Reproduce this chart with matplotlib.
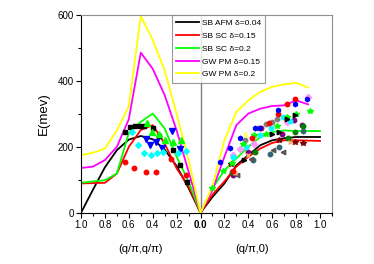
import numpy as np
import matplotlib
matplotlib.use('Agg')
import matplotlib.pyplot as plt
from matplotlib.ticker import MultipleLocator, FuncFormatter

plt.rcParams['font.family'] = ['Liberation Sans', 'DejaVu Sans']

# ── Lines: left branch (q/pi, q/pi), right branch (q/pi, 0) ────────────────
q_left = [1.0, 0.9, 0.8, 0.7, 0.6, 0.5, 0.4, 0.3, 0.2, 0.1, 0.0]
afm_left = [0, 70, 138, 190, 222, 233, 223, 192, 142, 75, 0]
sc15_left = [89, 90, 91, 119, 200, 251, 266, 210, 135, 80, 0]
sc20_left = [91, 95, 99, 119, 242, 276, 301, 256, 170, 95, 0]
pm15_left = [136, 140, 160, 200, 284, 486, 437, 357, 250, 125, 0]
pm20_left = [175, 182, 195, 250, 323, 597, 525, 432, 300, 160, 0]

q_right = [0.0, 0.1, 0.2, 0.3, 0.4, 0.5, 0.6, 0.7, 0.8, 0.9, 1.0]
afm_right = [0, 48, 89, 144, 175, 205, 220, 226, 230, 230, 230]
sc15_right = [0, 55, 95, 140, 170, 195, 212, 220, 220, 219, 218]
sc20_right = [0, 74, 129, 165, 200, 230, 245, 250, 248, 248, 248]
pm15_right = [0, 69, 170, 266, 301, 316, 324, 326, 341, 329]
pm20_right = [0, 79, 220, 306, 341, 367, 382, 390, 394, 380]

# ── Experimental points, left branch ───────────────────────────────────────
sq_q = [0.63, 0.59, 0.55, 0.51, 0.47, 0.40, 0.35, 0.23, 0.175, 0.11]
sq_E = [244, 259, 263, 263, 263, 256, 234, 190, 145, 94]
rc_q = [0.63, 0.556, 0.46, 0.37, 0.25, 0.12]
rc_E = [155, 137, 123, 123, 164, 114]
gt_q = [0.45, 0.405, 0.35, 0.295, 0.23, 0.167]
gt_E = [273, 244, 238, 220, 216, 222]
bt_q = [0.46, 0.42, 0.37, 0.32, 0.24, 0.175]
bt_E = [224, 207, 214, 196, 247, 195]
cd_q = [0.57, 0.52, 0.47, 0.415, 0.36, 0.31, 0.19, 0.125]
cd_E = [244, 205, 180, 174, 180, 185, 180, 188]

# ── Experimental points, right branch ──────────────────────────────────────
blue_q = [0.16, 0.25, 0.333, 0.454, 0.50, 0.65, 0.79, 0.89]
blue_E = [153, 198, 228, 256, 258, 311, 331, 345]
red_q = [0.27, 0.43, 0.51, 0.575, 0.65, 0.72, 0.79]
red_E = [127, 227, 257, 271, 301, 331, 345]
star_q = [0.10, 0.19, 0.26, 0.355, 0.45, 0.55, 0.64, 0.72, 0.80, 0.92]
star_E = [76, 127, 150, 210, 235, 240, 262, 291, 301, 308]
gray_q = [0.37, 0.48, 0.546, 0.60, 0.636]
gray_E = [220, 256, 269, 275, 286]
cyan_q = [0.27, 0.38, 0.496, 0.594, 0.69, 0.75]
cyan_E = [170, 200, 235, 256, 291, 280]
purple_q = [0.27, 0.40, 0.68, 0.78, 0.85]
purple_E = [114, 185, 240, 281, 266]
dgreen_q = [0.26, 0.46, 0.735, 0.79, 0.855]
dgreen_E = [123, 185, 228, 245, 263]
rtri_q = [0.36, 0.60, 0.66, 0.72, 0.79]
rtri_E = [160, 238, 245, 286, 296]
rstar_q = [0.258, 0.66, 0.79, 0.86]
rstar_E = [147, 222, 215, 212]
ltri_q = [0.305, 0.426, 0.61, 0.69]
ltri_E = [114, 162, 190, 185]
orange_q = [0.286, 0.40, 0.75]
orange_E = [121, 175, 215]
teal_q = [0.44, 0.58, 0.66, 0.86]
teal_E = [160, 178, 200, 248]
pink_q = [0.27, 0.33, 0.45, 0.72, 0.90]
pink_E = [175, 195, 210, 276, 351]
ytri_q = [0.37]
ytri_E = [240]

legend_labels = ['SB AFM δ=0.04', 'SB SC δ=0.15', 'SB SC δ=0.2',
                 'GW PM δ=0.15', 'GW PM δ=0.2']
line_colors = ['black', '#ff0000', '#00ff00', '#ff00ff', '#ffff00']

fig = plt.figure(figsize=(3.74, 2.64), dpi=100)
ax = fig.add_axes([0.2166, 0.194, 0.671, 0.749])

neg = lambda q: [-v for v in q]

lefts = [afm_left, sc15_left, sc20_left, pm15_left, pm20_left]
rights = [afm_right, sc15_right, sc20_right, pm15_right, pm20_right]
for i, (yl, yr) in enumerate(zip(lefts, rights)):
    ax.plot(neg(q_left), yl, color=line_colors[i], lw=1.3, label=legend_labels[i], zorder=2)
    ax.plot(q_right[:len(yr)], yr, color=line_colors[i], lw=1.3, zorder=2)

ms = 3.2
ax.plot(neg(sq_q), sq_E, 's', color='black', ms=ms, ls='none', zorder=3)
ax.plot(neg(rc_q), rc_E, 'o', color='#ff0000', ms=ms, ls='none', zorder=3)
ax.plot(neg(gt_q), gt_E, '^', color='#00ff00', ms=ms + 0.5, ls='none', zorder=3)
ax.plot(neg(bt_q), bt_E, 'v', color='#0000ff', ms=ms + 0.5, ls='none', zorder=3)
ax.plot(neg(cd_q), cd_E, 'D', color='#00ffff', ms=ms - 0.3, ls='none', zorder=3)

right_sets = [
    (gray_q, gray_E, 'o', '#808080'),
    (teal_q, teal_E, 'o', '#336677'),
    (purple_q, purple_E, 'o', '#800080'),
    (dgreen_q, dgreen_E, 'o', '#008000'),
    (ltri_q, ltri_E, '<', '#555555'),
    (rstar_q, rstar_E, '*', '#800000'),
    (orange_q, orange_E, 'x', '#ffaa66'),
    (pink_q, pink_E, 'D', '#ff99ff'),
    (cyan_q, cyan_E, 'o', '#00ffff'),
    (star_q, star_E, '*', '#00ff00'),
    (rtri_q, rtri_E, '>', 'black'),
    (ytri_q, ytri_E, '^', '#ffff66'),
    (red_q, red_E, 'o', '#ff0000'),
    (blue_q, blue_E, 'h', '#0000ff'),
]
for qq, ee, mk, col in right_sets:
    ax.plot(qq, ee, mk, color=col, ms=ms + (0.8 if mk == '*' else 0), ls='none', zorder=3)

ax.axvline(0, color='#808080', lw=1.0, zorder=1)

ax.set_xlim(-1.0, 1.1)
ax.set_ylim(0, 600)
ax.xaxis.set_major_locator(MultipleLocator(0.2))
ax.xaxis.set_minor_locator(MultipleLocator(0.1))
ax.xaxis.set_major_formatter(FuncFormatter(lambda v, p: f'{abs(v):.1f}'))
ax.yaxis.set_major_locator(MultipleLocator(200))
ax.yaxis.set_minor_locator(MultipleLocator(100))
ax.tick_params(axis='both', which='major', labelsize=7, length=3.5, width=0.8, pad=1.5)
ax.tick_params(axis='both', which='minor', length=2, width=0.8)
for lbl in ax.get_xticklabels():
    if lbl.get_text() == '0.0':
        lbl.set_fontweight('bold')

for s in ['top', 'right']:
    ax.spines[s].set_color('#909090')
ax.spines['left'].set_linewidth(0.8)
ax.spines['bottom'].set_linewidth(0.8)

ax.set_ylabel('E(mev)', fontsize=9.5, labelpad=6)
ax.text(-0.5, -0.16, '(q/π,q/π)', transform=ax.get_xaxis_transform(),
        ha='center', va='top', fontsize=8)
ax.text(0.43, -0.16, '(q/π,0)', transform=ax.get_xaxis_transform(),
        ha='center', va='top', fontsize=8)

leg = ax.legend(loc='upper left', bbox_to_anchor=(0.3625, 1.0), borderaxespad=0,
                fontsize=6, frameon=True, fancybox=False, handlelength=2.8,
                handletextpad=0.3, labelspacing=0.6, borderpad=0.5)
leg.get_frame().set_edgecolor('#808080')
leg.get_frame().set_linewidth(0.8)

fig.savefig('out.png', dpi=100)
